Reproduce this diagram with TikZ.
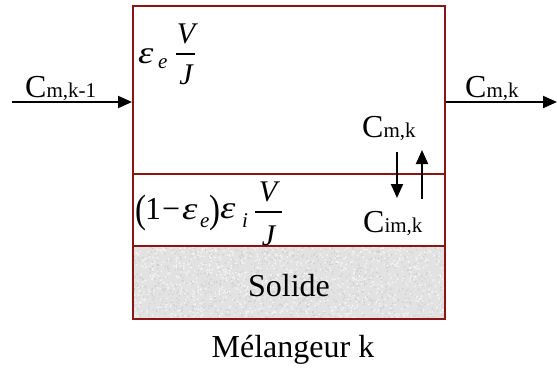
\documentclass[tikz,border=0pt]{standalone}
\usepackage{fontspec}
\setmainfont{Liberation Serif}
\usetikzlibrary{arrows.meta}
\definecolor{boxred}{RGB}{139,20,20}
\definecolor{solidgray}{RGB}{226,226,226}
\newcommand{\subtxt}[1]{{\fontsize{21}{24}\selectfont #1}}
\newcommand{\tallparen}[1]{\scalebox{1}[1.2]{#1}}
\newcommand{\bigeps}{\scalebox{1.3}[1.05]{ε}}
\tikzset{
  box/.style={draw=boxred, line width=2pt, inner sep=0pt},
  arr/.style={line width=2pt, -{Triangle[length=14pt,width=12pt]}},
  lbl/.style={inner sep=0pt, anchor=base west, font=\fontsize{32}{38}\selectfont},
  captxt/.style={inner sep=0pt, anchor=base, font=\fontsize{32}{38}\selectfont},
  mth/.style={inner sep=0pt, anchor=base west, font=\fontsize{30}{36}\selectfont\itshape},
  mthc/.style={inner sep=0pt, anchor=base, font=\fontsize{30}{36}\selectfont\itshape},
  msub/.style={inner sep=0pt, anchor=base west, font=\fontsize{21}{24}\selectfont\itshape},
  mrm/.style={inner sep=0pt, anchor=base west, font=\fontsize{32}{38}\selectfont},
  paren/.style={inner sep=0pt, anchor=base west, font=\fontsize{33}{38}\selectfont},
  fbar/.style={line width=1.6pt},
}
\begin{document}
\begin{tikzpicture}[x=1pt,y=-1pt]
\useasboundingbox (0,0) rectangle (557,368);
% solid layer fill with texture
\fill[solidgray] (133,246) rectangle (445,319);
\pgfmathsetseed{7}
\foreach \k in {1,...,1100}{
  \pgfmathsetmacro\xx{134+310*rnd}
  \pgfmathsetmacro\yy{247+71*rnd}
  \fill[gray!38] (\xx,\yy) circle (0.8pt);
}
\foreach \k in {1,...,900}{
  \pgfmathsetmacro\xx{134+310*rnd}
  \pgfmathsetmacro\yy{247+71*rnd}
  \fill[white!92!gray] (\xx,\yy) circle (1pt);
}
% boxes
\node[box, minimum width=312pt, minimum height=168pt] (top) at (289,90) {};
\node[box, minimum width=312pt, minimum height=72pt] (mid) at (289,210) {};
\node[box, minimum width=312pt, minimum height=73pt] (solid) at (289,282.5) {};
% flow arrows
\coordinate (inS) at (12,102);
\coordinate (outE) at (557,102);
\draw[arr] (inS) -- (inS -| top.west);
\draw[arr] (top.east |- outE) -- (outE);
% exchange arrows
\coordinate (d1) at (397,152);
\coordinate (d2) at (397,198);
\coordinate (u1) at (422,199);
\coordinate (u2) at (422,150);
\draw[arr] (d1) -- (d2);
\draw[arr] (u1) -- (u2);
% labels
\node[lbl] (cin) at (25,97) {C\subtxt{m,k-1}};
\node[lbl] (cout) at (465,97) {C\subtxt{m,k}};
\node[lbl] (cm) at (362,137) {C\subtxt{m,k}};
\node[lbl] (cim) at (363,232) {C\subtxt{im,k}};
\node[captxt] (solide) at (289,296) {Solide};
\node[captxt] (melk) at (293,357) {Mélangeur k};
% top formula: eps_e V/J
\node[mth] (eps1) at (138,63) {\bigeps};
\node[msub] (e1) at (158,68) {e};
\node[mthc] (V1) at (186,43) {V};
\node[mthc] (J1) at (186,84) {J};
\draw[fbar] (176,54) -- (195,54);
% middle formula: (1-eps_e) eps_i V/J
\node[paren] (lp) at (135,222) {\tallparen{(}};
\node[mrm] (one) at (145,219) {1};
\node[mrm] (minus) at (162,219) {−};
\node[mth] (eps2) at (182,219) {\bigeps};
\node[msub] (e2) at (200,227) {e};
\node[paren] (rp) at (209,222) {\tallparen{)}};
\node[mth] (eps3) at (220,218) {\bigeps};
\node[msub] (i3) at (242,227) {i};
\node[mthc] (V2) at (268,201) {V};
\node[mthc] (J2) at (268.5,245) {J};
\draw[fbar] (255,212) -- (282,212);
\end{tikzpicture}
\end{document}
